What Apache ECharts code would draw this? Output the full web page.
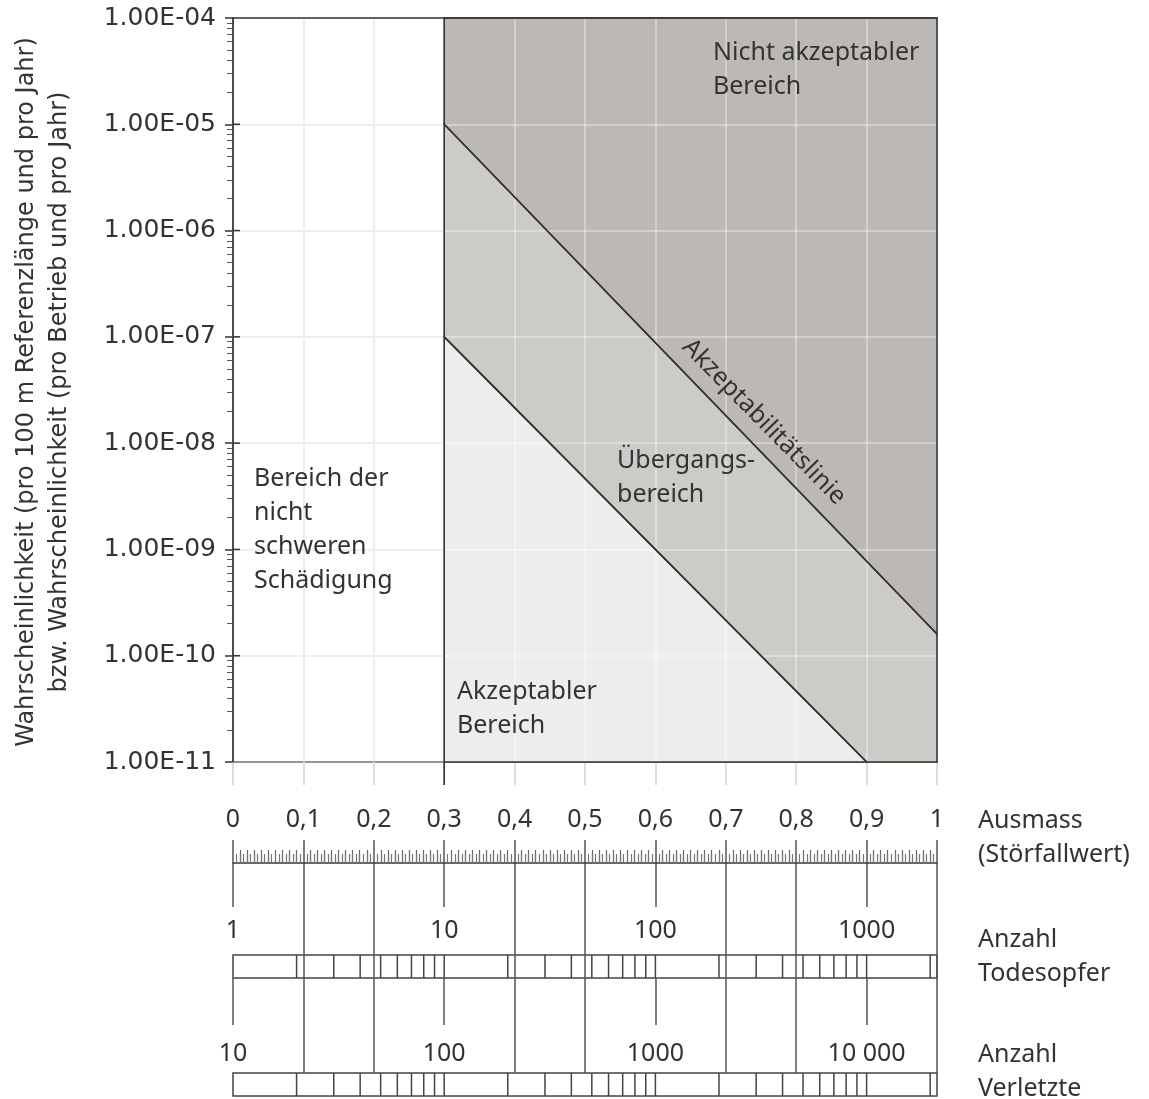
<!DOCTYPE html>
<html>
<head>
<meta charset="utf-8">
<script src="https://cdn.jsdelivr.net/npm/echarts@6/dist/echarts.min.js"></script>
<style>
  html, body { margin: 0; padding: 0; background: #fff; }
  #chart { width: 1149px; height: 1099px; }
</style>
</head>
<body>
<div id="chart"></div>
<script>
// Ausmass (Störfallwert) axis
const ausmassRange = [0, 1];
const ausmassStep = 0.1;
// probability axis (log)
const probRange = [1e-11, 1e-4];
// limit lines
const acceptLine = [[0.3, 1e-5], [1, 1.6e-10]];   // Akzeptabilitätslinie
const lowerLine = [[0.3, 1e-7], [0.9, 1e-11]];    // lower edge of Übergangsbereich
const boundaryX = 0.3;                            // start of schwere Schädigung
// nomogram scales
const todesRange = [1, 2154.43];
const verletzteRange = [10, 21544.3];
const mantissas = [2, 3, 4, 5, 6, 7, 8, 9];
const todesDecades = [1, 10, 100, 1000];
const todesLabels = ['1', '10', '100', '1000'];
const verletzteDecades = [10, 100, 1000, 10000];
const verletzteLabels = ['10', '100', '1000', '10 000'];
const connectorCats = ['0', '0,1', '0,2', '0,3', '0,4', '0,5', '0,6', '0,7', '0,8', '0,9', '1'];

const regionColors = ['#bcb8b5', '#cdcbc8', '#eeedeb'];
const lineColor = '#333';
const textColor = '#333';

const [pMin, pMax] = probRange;
const regions = [
  [[boundaryX, pMax], [1, pMax], acceptLine[1], acceptLine[0]],
  [acceptLine[0], acceptLine[1], [1, pMin], lowerLine[1], lowerLine[0]],
  [lowerLine[0], lowerLine[1], [boundaryX, pMin]]
];

function scaleTicks(decades, range) {
  const out = [];
  decades.forEach(d => {
    if (d > range[0]) out.push(d);
    mantissas.forEach(m => { if (m * d < range[1]) out.push(m * d); });
  });
  return out;
}
const todesTicks = scaleTicks(todesDecades, todesRange);
const verletzteTicks = scaleTicks(verletzteDecades, verletzteRange);

function decadeLabel(decades, labels) {
  return v => {
    const i = decades.findIndex(d => Math.abs(v / d - 1) < 1e-6);
    return i >= 0 ? labels[i] : '';
  };
}

const W = 704, L = 233;
const grids = [
  { left: L, width: W, top: 18, height: 744 },          // 0 main
  { left: L, width: W, top: 840, height: 23 },          // 1 ruler + labels
  { left: L, width: W, top: 840, height: 23 },          // 2 ruler fine ticks
  { left: L, width: W, top: 863, height: 44 },          // 3 short connectors
  { left: L, width: W, top: 863, height: 210 },         // 4 long connectors
  { left: L, width: W, top: 978, height: 47 },          // 5 short connectors
  { left: L, width: W, top: 955, height: 23, show: true, borderColor: '#444', borderWidth: 1.5 }, // 6 Todesopfer
  { left: L, width: W, top: 1073, height: 23, show: true, borderColor: '#444', borderWidth: 1.5 } // 7 Verletzte
].map(g => Object.assign({ containLabel: false, outerBoundsMode: 'none' }, g));

const hidden = { axisLine: { show: false }, axisTick: { show: false }, axisLabel: { show: false }, splitLine: { show: false } };

function connectorAxis(gridIndex, pick) {
  return Object.assign({}, hidden, {
    gridIndex, type: 'category', data: connectorCats, boundaryGap: false,
    splitLine: { show: true, interval: pick, lineStyle: { color: '#555', width: 1.5 } }
  });
}

function scaleAxis(gridIndex, range, decades, labels, margin) {
  return Object.assign({}, hidden, {
    gridIndex, type: 'log', min: range[0], max: range[1], position: 'top',
    axisLabel: { show: true, margin, fontSize: 25, color: textColor, formatter: decadeLabel(decades, labels), showMaxLabel: true }
  });
}

const xAxis = [
  { // 0 main
    gridIndex: 0, type: 'value', min: ausmassRange[0], max: ausmassRange[1], interval: ausmassStep,
    axisLine: { show: true, lineStyle: { color: lineColor, width: 1.5 } },
    axisTick: { show: true, length: 23, lineStyle: { color: '#d2d2d2', width: 1.5 } },
    axisLabel: { show: false },
    splitLine: { show: true, lineStyle: { color: '#dedede', width: 1.5 } }
  },
  Object.assign({}, hidden, { // 1 overlay on grey regions + top frame
    gridIndex: 0, type: 'value', min: ausmassRange[0], max: ausmassRange[1], interval: ausmassStep,
    position: 'top', z: 3,
    axisLine: { show: true, lineStyle: { color: lineColor, width: 1.5 } },
    splitLine: { show: true, lineStyle: { color: 'rgba(255,255,255,0.45)', width: 1.5 } }
  }),
  Object.assign({}, hidden, { // 2 Ausmass labels
    gridIndex: 1, type: 'value', min: ausmassRange[0], max: ausmassRange[1], interval: ausmassStep,
    position: 'top',
    axisLabel: { show: true, margin: 8, fontSize: 25, color: textColor,
      formatter: v => String(+v.toFixed(1)).replace('.', ',') }
  }),
  Object.assign({}, hidden, { // 3 ruler
    gridIndex: 1, type: 'value', min: ausmassRange[0], max: ausmassRange[1], interval: ausmassStep,
    position: 'bottom',
    axisLine: { show: true, lineStyle: { color: lineColor, width: 1.5 } },
    axisTick: { show: true, inside: true, length: 23, lineStyle: { color: '#555', width: 1.5 } },
    minorTick: { show: true, splitNumber: 10, length: 13, lineStyle: { color: '#666', width: 1.2 } }
  }),
  Object.assign({}, hidden, { // 4 ruler fine
    gridIndex: 2, type: 'value', min: ausmassRange[0], max: ausmassRange[1], interval: ausmassStep,
    position: 'bottom',
    axisTick: { show: false, inside: true },
    minorTick: { show: true, splitNumber: 20, length: 9, lineStyle: { color: '#777', width: 1.2 } }
  }),
  connectorAxis(3, i => i % 3 === 0),
  connectorAxis(4, i => i % 3 !== 0),
  connectorAxis(5, i => i % 3 === 0),
  scaleAxis(6, todesRange, todesDecades, todesLabels, 12),
  scaleAxis(7, verletzteRange, verletzteDecades, verletzteLabels, 7)
];

const yAxis = [
  { // 0 main probability
    gridIndex: 0, type: 'log', min: pMin, max: pMax,
    axisLine: { show: true, lineStyle: { color: lineColor, width: 1.5 } },
    axisTick: { show: true, length: 8, lineStyle: { color: lineColor, width: 1.5 } },
    minorTick: { show: true, splitNumber: 9, length: 6, lineStyle: { color: '#555', width: 1 } },
    axisLabel: {
      show: true, margin: 17, fontSize: 25, color: textColor, fontFamily: 'DejaVu Sans',
      showMinLabel: true, showMaxLabel: true,
      formatter: v => '1.00E-' + String(-Math.round(Math.log10(v))).padStart(2, '0')
    },
    splitLine: { show: true, lineStyle: { color: '#dedede', width: 1.5 } }
  },
  Object.assign({}, hidden, { // 1 overlay + right frame
    gridIndex: 0, type: 'log', min: pMin, max: pMax, position: 'right', z: 3,
    axisLine: { show: true, lineStyle: { color: lineColor, width: 1.5 } },
    splitLine: { show: true, lineStyle: { color: 'rgba(255,255,255,0.45)', width: 1.5 } }
  })
];
for (let g = 1; g < grids.length; g++) {
  yAxis.push({ gridIndex: g, type: 'value', min: 0, max: 1, show: false });
}

function tickSeries(xi, yi, ticks) {
  return {
    type: 'custom', xAxisIndex: xi, yAxisIndex: yi, silent: true, z: 4,
    data: ticks.map(v => [v, 0]),
    renderItem: (params, api) => {
      const top = api.coord([api.value(0), 1]);
      const bot = api.coord([api.value(0), 0]);
      return { type: 'line', shape: { x1: top[0], y1: top[1], x2: bot[0], y2: bot[1] },
        style: { stroke: '#444', lineWidth: 1.5 } };
    }
  };
}

const series = [
  { // filled regions
    type: 'custom', name: 'regions', xAxisIndex: 0, yAxisIndex: 0, silent: true, z: 2,
    data: regions.map((r, i) => [r[0][0], r[0][1], i]),
    renderItem: (params, api) => ({
      type: 'polygon',
      shape: { points: regions[params.dataIndex].map(p => api.coord(p)) },
      style: { fill: regionColors[params.dataIndex], stroke: null }
    })
  },
  { // region borders
    type: 'custom', name: 'borders', xAxisIndex: 0, yAxisIndex: 0, silent: true, z: 5,
    data: regions.map((r, i) => [r[0][0], r[0][1], i]),
    renderItem: (params, api) => ({
      type: 'polygon',
      shape: { points: regions[params.dataIndex].map(p => api.coord(p)) },
      style: { fill: 'none', stroke: lineColor, lineWidth: 1.6 }
    })
  },
  { // decade ticks crossing into the plot
    type: 'custom', xAxisIndex: 0, yAxisIndex: 0, silent: true, z: 5, clip: false,
    data: [1e-10, 1e-9, 1e-8, 1e-7, 1e-6, 1e-5].map(v => [0, v]),
    renderItem: (params, api) => {
      const p = api.coord([api.value(0), api.value(1)]);
      return { type: 'line', shape: { x1: p[0], y1: p[1], x2: p[0] + 7, y2: p[1] },
        style: { stroke: lineColor, lineWidth: 1.5 } };
    }
  },
  { // boundary tick below axis
    type: 'custom', xAxisIndex: 0, yAxisIndex: 0, silent: true, z: 5, clip: false,
    data: [[boundaryX, pMin]],
    renderItem: (params, api) => {
      const p = api.coord([api.value(0), api.value(1)]);
      return { type: 'line', shape: { x1: p[0], y1: p[1], x2: p[0], y2: p[1] + 23 },
        style: { stroke: lineColor, lineWidth: 1.6 } };
    }
  },
  tickSeries(8, 7, todesTicks),
  tickSeries(9, 8, verletzteTicks)
];

const annoFont = { fontFamily: 'Noto Sans', fontSize: 25, fill: textColor, lineHeight: 34 };
function anno(x, y, text, extra) {
  return Object.assign({ type: 'text', x, y, z: 20, silent: true,
    style: Object.assign({ text, align: 'left', verticalAlign: 'middle' }, annoFont) }, extra || {});
}

const graphic = [
  anno(713, 70, 'Nicht akzeptabler\nBereich'),
  anno(254, 530, 'Bereich der\nnicht\nschweren\nSchädigung'),
  anno(617, 478, 'Übergangs-\nbereich'),
  anno(457, 709, 'Akzeptabler\nBereich'),
  { type: 'text', x: 764, y: 422, rotation: -45.5 * Math.PI / 180, z: 20, silent: true,
    style: Object.assign({ text: 'Akzeptabilitätslinie', align: 'center', verticalAlign: 'middle' }, annoFont) },
  anno(978, 838, 'Ausmass\n(Störfallwert)'),
  anno(978, 957, 'Anzahl\nTodesopfer'),
  anno(978, 1072, 'Anzahl\nVerletzte'),
  { type: 'text', x: 43, y: 392, rotation: Math.PI / 2, z: 20, silent: true,
    style: { text: 'Wahrscheinlichkeit (pro 100 m Referenzlänge und pro Jahr)\nbzw. Wahrscheinlichkeit (pro Betrieb und pro Jahr)',
      align: 'center', verticalAlign: 'middle', fontFamily: 'DejaVu Sans', fontSize: 24,
      lineHeight: 33, fill: textColor } }
];

const chart = echarts.init(document.getElementById('chart'), null, { renderer: 'canvas' });
chart.setOption({
  animation: false,
  backgroundColor: '#fff',
  textStyle: { fontFamily: 'Noto Sans', color: textColor },
  grid: grids,
  xAxis,
  yAxis,
  series,
  graphic
});
</script>
</body>
</html>
